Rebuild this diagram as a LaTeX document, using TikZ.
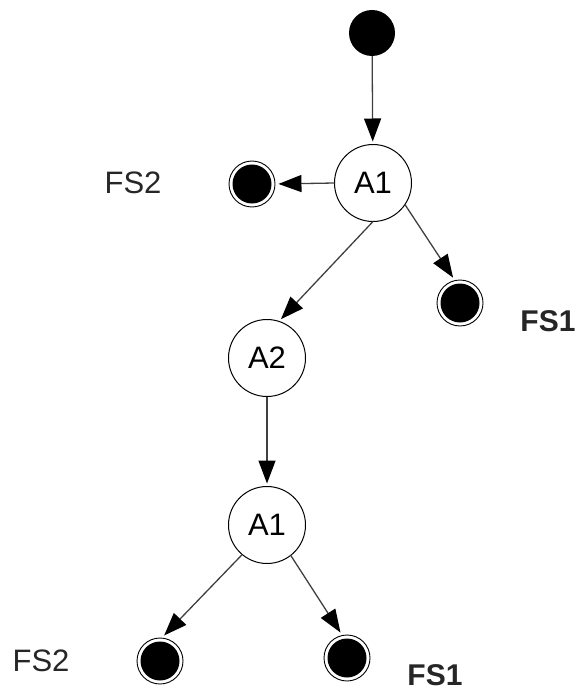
\documentclass[tikz,border=0pt]{standalone}
\usepackage{fontspec}
\setmainfont{Liberation Sans}
\usetikzlibrary{arrows.meta}
\tikzset{
  state/.style={circle, draw=black, line width=1pt, fill=white, minimum size=77pt, inner sep=0pt, outer sep=0pt, font=\fontsize{31}{34}\selectfont},
  initstate/.style={circle, fill=black, minimum size=46pt, inner sep=0pt},
  finalstate/.style={circle, draw=black, line width=0.9pt, fill=white, minimum size=46pt, inner sep=0pt,
    path picture={\fill[black] (path picture bounding box.center) circle (19.5pt);}},
  lbl/.style={font=\fontsize{31}{34}\selectfont, text=black!85},
  lblb/.style={font=\fontsize{30}{33}\selectfont\bfseries, text=black!85},
  edge/.style={draw=black!75, line width=1.3pt, shorten >=3pt, -{Triangle[length=23pt,width=17pt,color=black]}}
}
\begin{document}
\begin{tikzpicture}[x=1pt,y=-1pt]
\useasboundingbox (0,0) rectangle (581,695);
\node[initstate] (s) at (372,33) {};
\node[state] (a1) at (373,183) {A1};
\node[finalstate] (f2a) at (252,184) {};
\node[finalstate] (f1a) at (460,303) {};
\node[state] (a2) at (267,358) {A2};
\node[state] (a1b) at (267,525) {A1};
\node[finalstate] (f2b) at (160,661) {};
\node[finalstate] (f1b) at (347,658) {};
\node[lbl] (l2a) at (133,183) {FS2};
\node[lblb] (l1a) at (548,321) {FS1};
\node[lbl] (l2b) at (41,661) {FS2};
\node[lblb] (l1b) at (435,675) {FS1};
\draw[edge] (s) -- (a1);
\draw[edge] (a1.west) -- (f2a.east);
\draw[edge] (a1.-34) -- (f1a.103);
\draw[edge] (a1.south) -- (a2.72);
\draw[edge] (a2.south) -- (a1b.north);
\draw[edge] (a1b.230) -- (f2b.85);
\draw[edge] (a1b.308) -- (f1b.102);
\end{tikzpicture}
\end{document}
